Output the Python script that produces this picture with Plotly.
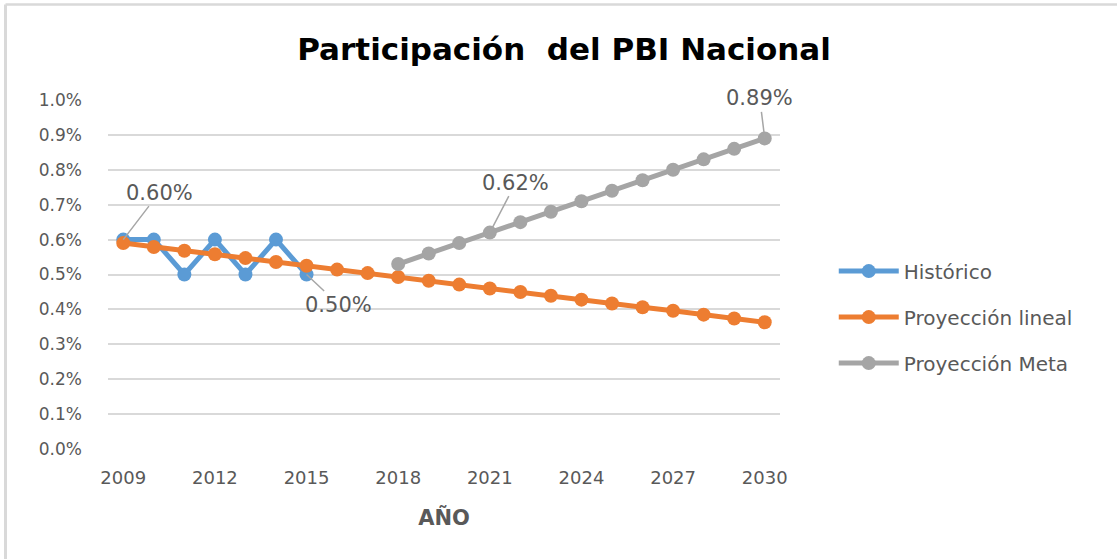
import plotly.graph_objects as go

years = list(range(2009, 2031))
hist_years = list(range(2009, 2016))
historico = [0.60, 0.60, 0.50, 0.60, 0.50, 0.60, 0.50]
lineal = [0.590, 0.579, 0.568, 0.558, 0.547, 0.536, 0.525, 0.514, 0.504, 0.493, 0.482,
          0.471, 0.460, 0.450, 0.439, 0.428, 0.417, 0.406, 0.396, 0.385, 0.374, 0.363]
meta_years = list(range(2018, 2031))
meta = [0.53, 0.56, 0.59, 0.62, 0.65, 0.68, 0.71, 0.74, 0.77, 0.80, 0.83, 0.86, 0.89]
y_ticks = [0.0, 0.1, 0.2, 0.3, 0.4, 0.5, 0.6, 0.7, 0.8, 0.9, 1.0]
x_ticks = [2009, 2012, 2015, 2018, 2021, 2024, 2027, 2030]

BLUE = "#5B9BD5"
ORANGE = "#ED7D31"
GRAY = "#A5A5A5"
TXT = "#595959"
FONT = "DejaVu Sans"

fig = go.Figure()
for xs, ys, name, col in [(hist_years, historico, "Histórico", BLUE),
                          (years, lineal, "Proyección lineal", ORANGE),
                          (meta_years, meta, "Proyección Meta", GRAY)]:
    fig.add_trace(go.Scatter(x=xs, y=ys, name=name, legendgroup=name, mode="lines+markers",
                             line=dict(color=col, width=5), marker=dict(size=14, color=col)))

labels = [
    (hist_years[0], historico[0], 36, -47),
    (hist_years[6], historico[6], 32, 30),
    (meta_years[3], meta[3], 26, -50),
    (meta_years[12], meta[12], -5, -40),
]
for x, y, ax, ay in labels:
    fig.add_annotation(x=x, y=y, text=f"{y:.2f}%", showarrow=True, arrowhead=0,
                       arrowwidth=1.5, arrowcolor="#A6A6A6", ax=ax, ay=ay,
                       font=dict(family=FONT, size=21, color=TXT))

# page frame lines (top and left)
fig.add_shape(type="line", xref="paper", yref="paper", x0=-0.1525, x1=1.502, y0=1.2735, y1=1.2735,
              line=dict(color="#D9D9D9", width=2.5))
fig.add_shape(type="line", xref="paper", yref="paper", x0=-0.1525, x1=-0.1525, y0=-0.32, y1=1.2735,
              line=dict(color="#D9D9D9", width=3))

fig.update_layout(
    width=1117, height=559,
    margin=dict(l=108, r=337, t=100, b=110),
    paper_bgcolor="white", plot_bgcolor="white",
    title=dict(text="<b>Participación&nbsp; del PBI Nacional</b>", x=0.505, xanchor="center",
               y=0.912, yanchor="middle", font=dict(family=FONT, size=31, color="black")),
    font=dict(family=FONT, color=TXT),
    showlegend=True,
    legend=dict(x=1.08, y=0.378, xanchor="left", yanchor="middle", font=dict(size=20, color=TXT),
                itemwidth=60, tracegroupgap=17, bgcolor="rgba(0,0,0,0)"),
    xaxis=dict(range=[2008.5, 2030.5], tickvals=x_ticks, ticktext=[str(v) for v in x_ticks],
               showgrid=False, zeroline=False, showline=False, ticks="",
               tickfont=dict(size=18, color=TXT), ticklabelstandoff=16,
               title=dict(text="<b>AÑO</b>", font=dict(size=21, color=TXT), standoff=23)),
    yaxis=dict(range=[0, 1.0], tickvals=y_ticks, ticktext=[f"{v:.1f}%" for v in y_ticks],
               showgrid=True, gridcolor="#D9D9D9", gridwidth=1.5, zeroline=False,
               showline=False, ticks="", tickfont=dict(size=17, color=TXT),
               ticklabelstandoff=25),
)
fig.write_html("out.html", config={"displayModeBar": False},
               post_script="document.body.style.margin='0';")
